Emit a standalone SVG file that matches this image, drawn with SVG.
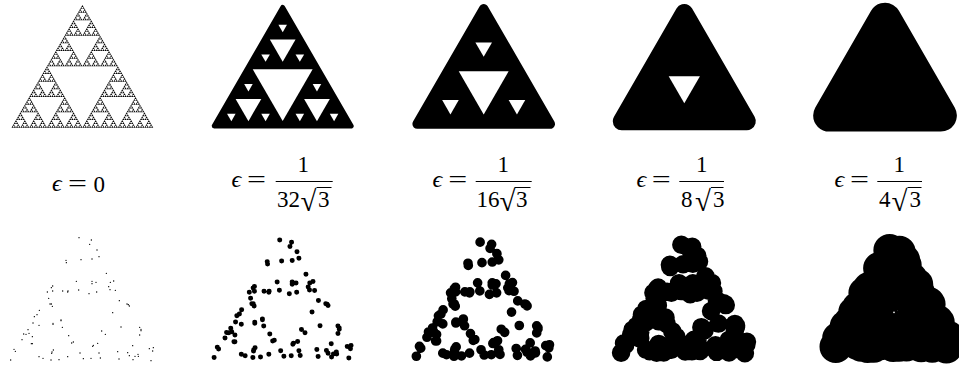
<svg xmlns="http://www.w3.org/2000/svg" xmlns:xlink="http://www.w3.org/1999/xlink" width="959" height="366" viewBox="0 0 959 366">
<style>
.m{font-family:"Liberation Serif","DejaVu Serif",serif;font-size:23px;fill:#000}
.e{font-family:"Liberation Serif","DejaVu Serif",serif;font-style:italic;font-size:24px;fill:#000}
.r{font-family:"Liberation Serif","DejaVu Serif",serif;font-size:29px;fill:#000}
.b{stroke:#000;fill:none;stroke-width:1}
.t{fill:#000;stroke:#000;stroke-linejoin:round}
.d{fill:none;stroke:#000;stroke-linecap:round}
.h{fill:#fff}
</style>
<defs>
<polygon id="l0" points="0,0 .5,.866 -.5,.866"/>
<g id="l1"><use href="#l0" transform="scale(.5)"/><use href="#l0" transform="translate(-.25,.433) scale(.5)"/><use href="#l0" transform="translate(.25,.433) scale(.5)"/></g>
<g id="l2"><use href="#l1" transform="scale(.5)"/><use href="#l1" transform="translate(-.25,.433) scale(.5)"/><use href="#l1" transform="translate(.25,.433) scale(.5)"/></g>
<g id="l3"><use href="#l2" transform="scale(.5)"/><use href="#l2" transform="translate(-.25,.433) scale(.5)"/><use href="#l2" transform="translate(.25,.433) scale(.5)"/></g>
<g id="l4"><use href="#l3" transform="scale(.5)"/><use href="#l3" transform="translate(-.25,.433) scale(.5)"/><use href="#l3" transform="translate(.25,.433) scale(.5)"/></g>
<g id="l5"><use href="#l4" transform="scale(.5)"/><use href="#l4" transform="translate(-.25,.433) scale(.5)"/><use href="#l4" transform="translate(.25,.433) scale(.5)"/></g>
<g id="l6"><use href="#l5" transform="scale(.5)"/><use href="#l5" transform="translate(-.25,.433) scale(.5)"/><use href="#l5" transform="translate(.25,.433) scale(.5)"/></g>
<polygon id="h" class="h" points="-.5,0 .5,0 0,.866"/>
<path id="pts" d="M237 23h.1M274 30h.1M269 43h.1M291 60h.1M297 80h.1M198 91h.1M199 98h.1M243 89h.1M276 87h.1M319 130h.1M229 154h.1M276 154h.1M276 161h.1M288 157h.1M331 157h.1M341 153h.1M326 170h.1M330 179h.1M346 181h.1M158 168h.1M154 173h.1M142 186h.1M158 183h.1M188 183h.1M204 183h.1M203 186h.1M236 180h.1M267 191h.1M290 186h.1M146 205h.1M150 222h.1M154 222h.1M157 229h.1M358 212h.1M381 222h.1M385 224h.1M388 228h.1M118 241h.1M338 248h.1M111 254h.1M103 260h.1M183 270h.1M183 272h.1M99 279h.1M159 280h.1M159 283h.1M117 286h.1M187 292h.1M363 291h.1M419 292h.1M423 298h.1M423 302h.1M84 299h.1M87 310h.1M71 312h.1M78 313h.1M97 320h.1M305 303h.1M316 313h.1M206 317h.1M419 315h.1M66 329h.1M220 336h.1M215 339h.1M293 340h.1M280 346h.1M278 349h.1M94 341h.1M97 341h.1M398 347h.1M42 358h.1M46 364h.1M448 356h.1M460 353h.1M458 363h.1M160 360h.1M156 366h.1M155 370h.1M353 365h.1M383 368h.1M240 369h.1M297 369h.1M388 377h.1M414 373h.1M415 379h.1M405 379h.1M117 380h.1M129 385h.1M203 380h.1M250 386h.1M273 385h.1M301 384h.1M357 387h.1M399 389h.1M32 390h.1M153 390h.1M177 389h.1M453 392h.1"/>
</defs>

<g id="gasket-0"><use href="#l6" fill="#000" stroke="#000" stroke-width=".002" transform="translate(82.4,5) scale(141.7)"/></g>

<g id="gasket-32">
<polygon class="t" stroke-width="4.94" points="282.7,7.46 351.2,126.1 214.2,126.1"/>
<use href="#h" transform="translate(282.7,69.25) scale(59.9)"/>
<use href="#h" transform="translate(282.7,39.59) scale(25.7)"/>
<use href="#h" transform="translate(248.45,98.91) scale(25.7)"/>
<use href="#h" transform="translate(316.95,98.91) scale(25.7)"/>
<use href="#h" transform="translate(282.7,24.76) scale(8.56)"/>
<use href="#h" transform="translate(265.58,54.42) scale(8.56)"/>
<use href="#h" transform="translate(299.83,54.42) scale(8.56)"/>
<use href="#h" transform="translate(248.45,84.08) scale(8.56)"/>
<use href="#h" transform="translate(231.33,113.74) scale(8.56)"/>
<use href="#h" transform="translate(265.58,113.74) scale(8.56)"/>
<use href="#h" transform="translate(316.95,84.08) scale(8.56)"/>
<use href="#h" transform="translate(299.83,113.74) scale(8.56)"/>
<use href="#h" transform="translate(334.08,113.74) scale(8.56)"/>
</g>

<g id="gasket-16">
<polygon class="t" stroke-width="9.6" points="483.7,8.8 550.2,124 417.2,124"/>
<use href="#h" transform="translate(483.7,71.19) scale(49.9)"/>
<use href="#h" transform="translate(483.7,42.4) scale(16.6)"/>
<use href="#h" transform="translate(450.45,100) scale(16.6)"/>
<use href="#h" transform="translate(516.95,100) scale(16.6)"/>
</g>

<g id="gasket-8">
<polygon class="t" stroke-width="18.04" points="684.3,13.02 746.8,121.27 621.8,121.27"/>
<use href="#h" transform="translate(684.3,76.17) scale(31.25)"/>
</g>

<g id="gasket-4">
<polygon class="t" stroke-width="32.18" points="885,18.9 940.75,115.5 829.25,115.5"/>
</g>

<g id="label-0">
<text class="e" x="52" y="191">ϵ</text>
<text class="m" x="68" y="191" textLength="19" lengthAdjust="spacingAndGlyphs">=</text>
<text class="m" x="93.5" y="191.5">0</text>
</g>
<g id="label-32">
<text class="e" x="231.5" y="186.5">ϵ</text>
<text class="m" x="247" y="186.5" textLength="19" lengthAdjust="spacingAndGlyphs">=</text>
<line class="b" x1="275.7" y1="181.5" x2="332.7" y2="181.5"/>
<text class="m" x="297.5" y="172">1</text>
<text class="m" x="277" y="206.7">32</text>
<text class="r" x="300.5" y="211">√</text>
<line class="b" x1="316.5" y1="187.5" x2="331.5" y2="187.5"/>
<text class="m" x="318" y="206.7">3</text>
</g>
<g id="label-16">
<text class="e" x="432.5" y="186.5">ϵ</text>
<text class="m" x="448.3" y="186.5" textLength="19" lengthAdjust="spacingAndGlyphs">=</text>
<line class="b" x1="475.7" y1="181.5" x2="531.7" y2="181.5"/>
<text class="m" x="497.5" y="172">1</text>
<text class="m" x="476.5" y="206.7">16</text>
<text class="r" x="499.5" y="211">√</text>
<line class="b" x1="514.5" y1="187.5" x2="530.5" y2="187.5"/>
<text class="m" x="516" y="206.7">3</text>
</g>
<g id="label-8">
<text class="e" x="636.5" y="186.5">ϵ</text>
<text class="m" x="651.7" y="186.5" textLength="19" lengthAdjust="spacingAndGlyphs">=</text>
<line class="b" x1="679.3" y1="181.5" x2="724" y2="181.5"/>
<text class="m" x="696" y="172">1</text>
<text class="m" x="681" y="206.7">8</text>
<text class="r" x="695" y="211">√</text>
<line class="b" x1="711" y1="187.5" x2="723.5" y2="187.5"/>
<text class="m" x="713" y="206.7">3</text>
</g>
<g id="label-4">
<text class="e" x="834.5" y="186.5">ϵ</text>
<text class="m" x="850" y="186.5" textLength="19" lengthAdjust="spacingAndGlyphs">=</text>
<line class="b" x1="877.3" y1="181.5" x2="922" y2="181.5"/>
<text class="m" x="893.5" y="172">1</text>
<text class="m" x="879" y="206.7">4</text>
<text class="r" x="891.5" y="211">√</text>
<line class="b" x1="907.5" y1="187.5" x2="921.5" y2="187.5"/>
<text class="m" x="909.5" y="206.7">3</text>
</g>

<g id="points-0"><use href="#pts" class="d" stroke-width="4" transform="translate(82,361) scale(.3333) translate(-246,-393)"/></g>
<g id="points-32"><use href="#pts" class="d" stroke-width="15.6" transform="translate(282.6,358.4) scale(.32) translate(-246,-393)"/></g>
<g id="points-16"><use href="#pts" class="d" stroke-width="31" transform="translate(482.9,357.2) scale(.311) translate(-246,-393)"/></g>
<g id="points-8"><use href="#pts" class="d" stroke-width="63" transform="translate(684,353.6) scale(.294) translate(-246,-393)"/></g>
<g id="points-4"><use href="#pts" class="d" stroke-width="124" transform="translate(892,347.5) scale(.2627) translate(-246,-393)"/><circle cx="892.5" cy="314" r="6"/><circle cx="894" cy="312.4" r=".8" fill="#fff"/></g>
</svg>
